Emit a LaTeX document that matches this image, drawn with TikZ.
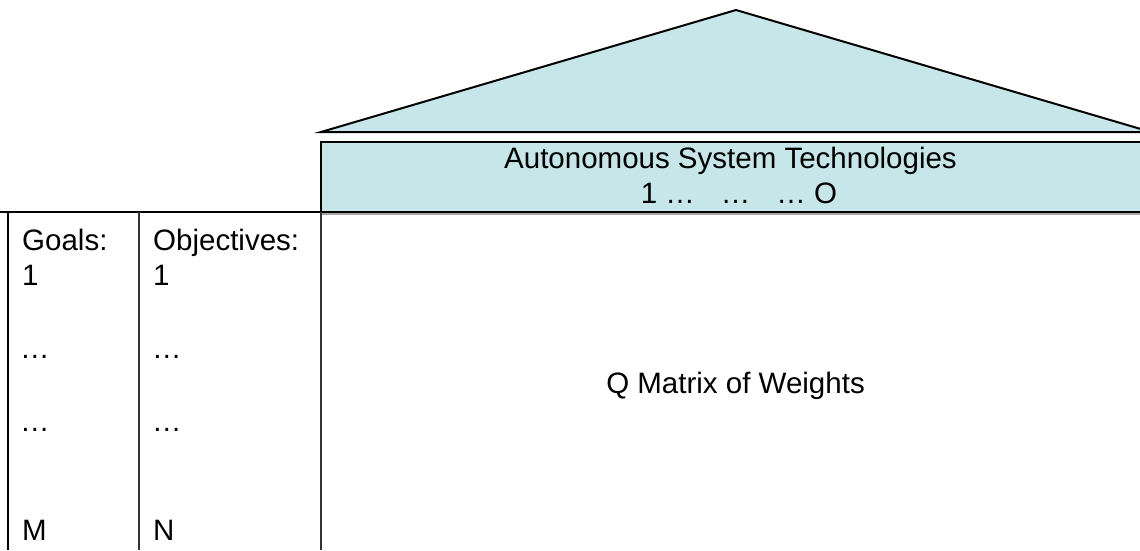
\documentclass[tikz,border=0pt]{standalone}
\usepackage{fontspec}
\setmainfont{Liberation Sans}
\definecolor{roofblue}{HTML}{C6E6EA}
\definecolor{gridgray}{HTML}{333333}
\tikzset{
  lbl/.style={inner sep=0pt, font=\fontsize{29.5}{35}\selectfont, text=black},
  leftlbl/.style={lbl, anchor=base west},
  midlbl/.style={lbl, anchor=base},
  edge/.style={line width=2pt, draw=black},
}
\begin{document}
\begin{tikzpicture}[x=1pt, y=-1pt]
\useasboundingbox (0,0) rectangle (1140,550);
% roof
\filldraw[edge, fill=roofblue, line join=miter] (321,132) -- (736,10) -- (1151,132) -- cycle;
% header band
\draw[line width=1.5pt, draw=gray!70] (321,214) -- (1145,214);
\filldraw[edge, fill=roofblue] (321,142) rectangle (1152,212);
% table lines
\draw[edge] (0,212) -- (321,212);
\draw[edge] (8,212) -- (8,550);
\draw[line width=2.3pt, draw=gridgray] (139,212) -- (139,550);
\draw[line width=2.3pt, draw=gridgray] (321,212) -- (321,550);
% header texts
\node[midlbl] (ast) at (730.5,168) {Autonomous System Technologies};
\node[midlbl] (tech) at (739,203) {1 …\hspace{26pt}…\hspace{26pt}… O};
% goals column
\node[leftlbl] (goals) at (22,250) {Goals:};
\node[leftlbl] (g1) at (22,285) {1};
\node[leftlbl] (gd1) at (20,358) {…};
\node[leftlbl] (gd2) at (20,431) {…};
\node[leftlbl] (gm) at (22,540) {M};
% objectives column
\node[leftlbl] (obj) at (153,250) {Objectives:};
\node[leftlbl] (o1) at (153,285) {1};
\node[leftlbl] (od1) at (152,358) {…};
\node[leftlbl] (od2) at (152,431) {…};
\node[leftlbl] (on) at (153,540) {N};
% matrix
\node[midlbl] (q) at (735.5,393) {Q Matrix of Weights};
\end{tikzpicture}
\end{document}
